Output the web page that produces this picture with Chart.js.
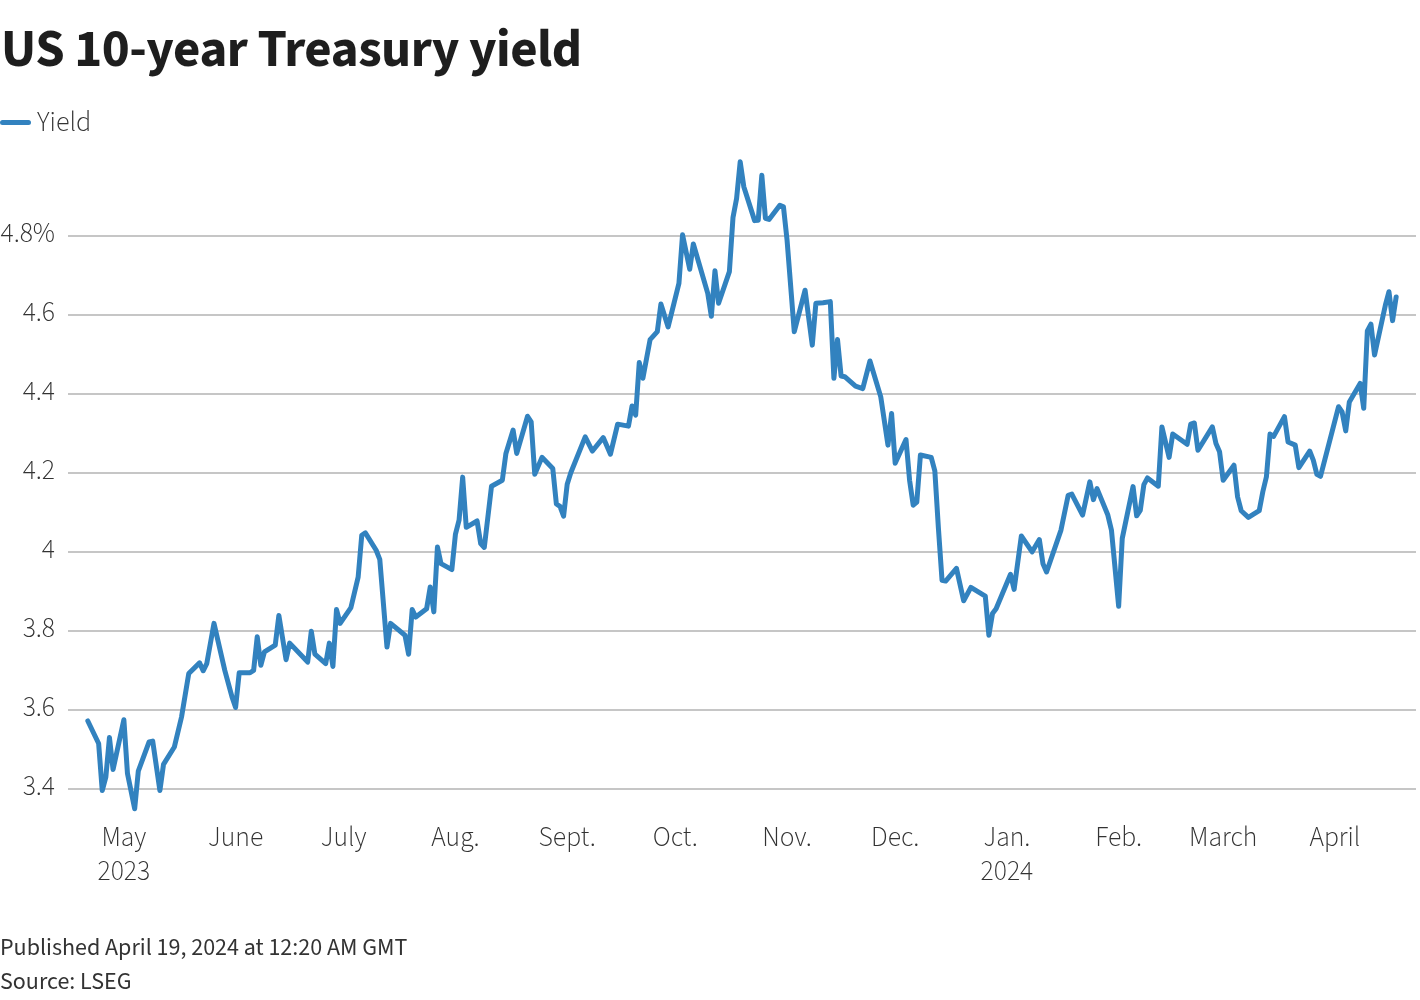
<!DOCTYPE html>
<html>
<head>
<meta charset="utf-8">
<script src="https://cdn.jsdelivr.net/npm/chart.js@4"></script>
<style>
  body { margin: 0; background: #fff; font-family: "Source Sans 3", "Source Sans Pro", Lato, sans-serif; color: #222; }
  #wrap { position: relative; width: 1420px; height: 1000px; }
  #chart { position: absolute; left: 0; top: 0; }
  #title { position: absolute; left: 1px; top: 12px; font-size: 53px; font-weight: 700; color: #1e1e1e; letter-spacing: -0.5px; }
  #legend { position: absolute; left: 0; top: 102px; font-size: 28px; font-weight: 300; color: #333; }
  #legend span.swatch { display: inline-block; width: 31px; height: 5px; border-radius: 3px; background: #3282bf; vertical-align: middle; margin-right: 6px; position: relative; top: -2px; }
  .foot { position: absolute; left: 0; font-size: 24px; color: #333; }
</style>
</head>
<body>
<div id="wrap">
  <canvas id="chart" width="1420" height="1000"></canvas>
  <div id="title">US 10-year Treasury yield</div>
  <div id="legend"><span class="swatch"></span>Yield</div>
  <div class="foot" style="top: 930px;">Published April 19, 2024 at 12:20 AM GMT</div>
  <div class="foot" style="top: 964px;">Source: LSEG</div>
</div>
<script>
// trading days
var dates = [
  "2023-04-21", "2023-04-24", "2023-04-25", "2023-04-26", "2023-04-27", "2023-04-28",
  "2023-05-01", "2023-05-02", "2023-05-04", "2023-05-05", "2023-05-08", "2023-05-09", "2023-05-11", "2023-05-12",
  "2023-05-15", "2023-05-17", "2023-05-19", "2023-05-22", "2023-05-23", "2023-05-24", "2023-05-26", "2023-05-29", "2023-05-31",
  "2023-06-01", "2023-06-02", "2023-06-05", "2023-06-06", "2023-06-07", "2023-06-08", "2023-06-09", "2023-06-12", "2023-06-13",
  "2023-06-15", "2023-06-16", "2023-06-21", "2023-06-22", "2023-06-23", "2023-06-26", "2023-06-27", "2023-06-28", "2023-06-29", "2023-06-30",
  "2023-07-03", "2023-07-05", "2023-07-06", "2023-07-07", "2023-07-10", "2023-07-11", "2023-07-13", "2023-07-14", "2023-07-18",
  "2023-07-19", "2023-07-20", "2023-07-21", "2023-07-24", "2023-07-25", "2023-07-26", "2023-07-27", "2023-07-28", "2023-07-31",
  "2023-08-01", "2023-08-02", "2023-08-03", "2023-08-04", "2023-08-07", "2023-08-08", "2023-08-09", "2023-08-11", "2023-08-14", "2023-08-15",
  "2023-08-17", "2023-08-18", "2023-08-21", "2023-08-22", "2023-08-23", "2023-08-25", "2023-08-28", "2023-08-29", "2023-08-30", "2023-08-31",
  "2023-09-01", "2023-09-02", "2023-09-06", "2023-09-08", "2023-09-11", "2023-09-13", "2023-09-15", "2023-09-18",
  "2023-09-19", "2023-09-20", "2023-09-21", "2023-09-22", "2023-09-24", "2023-09-26", "2023-09-27", "2023-09-29",
  "2023-10-02", "2023-10-03", "2023-10-05", "2023-10-06", "2023-10-10", "2023-10-11", "2023-10-12", "2023-10-13", "2023-10-16", "2023-10-17",
  "2023-10-18", "2023-10-19", "2023-10-20", "2023-10-23", "2023-10-24", "2023-10-25", "2023-10-26", "2023-10-27", "2023-10-30", "2023-10-31",
  "2023-11-01", "2023-11-03", "2023-11-06", "2023-11-08", "2023-11-09", "2023-11-11", "2023-11-13", "2023-11-14", "2023-11-15",
  "2023-11-16", "2023-11-17", "2023-11-20", "2023-11-22", "2023-11-24", "2023-11-27", "2023-11-29", "2023-11-30",
  "2023-12-01", "2023-12-04", "2023-12-05", "2023-12-06", "2023-12-07", "2023-12-08", "2023-12-11", "2023-12-12", "2023-12-13",
  "2023-12-14", "2023-12-15", "2023-12-18", "2023-12-20", "2023-12-22", "2023-12-26", "2023-12-27", "2023-12-28", "2023-12-29",
  "2024-01-02", "2024-01-03", "2024-01-05", "2024-01-08", "2024-01-10", "2024-01-11", "2024-01-12", "2024-01-16",
  "2024-01-18", "2024-01-19", "2024-01-22", "2024-01-24", "2024-01-25", "2024-01-26", "2024-01-29", "2024-01-30",
  "2024-02-01", "2024-02-02", "2024-02-05", "2024-02-06", "2024-02-07", "2024-02-08", "2024-02-09", "2024-02-12", "2024-02-13",
  "2024-02-15", "2024-02-16", "2024-02-20", "2024-02-21", "2024-02-22", "2024-02-23", "2024-02-27", "2024-02-28", "2024-02-29",
  "2024-03-01", "2024-03-04", "2024-03-05", "2024-03-06", "2024-03-08", "2024-03-11", "2024-03-12", "2024-03-13", "2024-03-14",
  "2024-03-15", "2024-03-18", "2024-03-19", "2024-03-21", "2024-03-22", "2024-03-25", "2024-03-26", "2024-03-27", "2024-03-28",
  "2024-04-02", "2024-04-03", "2024-04-04", "2024-04-05", "2024-04-08", "2024-04-09", "2024-04-10", "2024-04-11",
  "2024-04-12", "2024-04-15", "2024-04-16", "2024-04-17", "2024-04-18"
];

var yields = [
  3.573, 3.516, 3.397, 3.431, 3.531, 3.45,
  3.576, 3.44, 3.351, 3.446, 3.52, 3.522, 3.397, 3.463,
  3.507, 3.583, 3.693, 3.72, 3.70, 3.718, 3.82, 3.701, 3.634,
  3.607, 3.695, 3.695, 3.701, 3.786, 3.714, 3.748, 3.765, 3.84,
  3.728, 3.77, 3.722, 3.80, 3.742, 3.718, 3.77, 3.711, 3.855, 3.82,
  3.86, 3.937, 4.043, 4.049, 4.005, 3.982, 3.76, 3.82, 3.79,
  3.742, 3.855, 3.836, 3.857, 3.912, 3.849, 4.013, 3.971, 3.956,
  4.046, 4.081, 4.19, 4.063, 4.079, 4.022, 4.012, 4.167, 4.182, 4.25,
  4.309, 4.25, 4.344, 4.33, 4.197, 4.24, 4.212, 4.122, 4.116, 4.091,
  4.172, 4.201, 4.292, 4.256, 4.29, 4.248, 4.324, 4.319,
  4.37, 4.347, 4.48, 4.44, 4.538, 4.558, 4.628, 4.57,
  4.68, 4.803, 4.716, 4.78, 4.655, 4.597, 4.712, 4.63, 4.71, 4.847,
  4.895, 4.988, 4.925, 4.839, 4.84, 4.954, 4.845, 4.842, 4.878, 4.874,
  4.79, 4.558, 4.663, 4.524, 4.63, 4.631, 4.634, 4.44, 4.538,
  4.446, 4.444, 4.42, 4.414, 4.484, 4.393, 4.271, 4.351,
  4.225, 4.285, 4.182, 4.119, 4.127, 4.246, 4.24, 4.206, 4.06,
  3.929, 3.927, 3.959, 3.877, 3.911, 3.889, 3.79, 3.845, 3.857,
  3.944, 3.906, 4.041, 4.001, 4.032, 3.971, 3.95, 4.056,
  4.144, 4.147, 4.094, 4.178, 4.133, 4.161, 4.094, 4.056,
  3.863, 4.035, 4.166, 4.092, 4.106, 4.171, 4.188, 4.167, 4.317,
  4.24, 4.299, 4.273, 4.324, 4.327, 4.258, 4.317, 4.275, 4.254,
  4.182, 4.22, 4.14, 4.105, 4.088, 4.105, 4.153, 4.191, 4.299,
  4.293, 4.343, 4.279, 4.271, 4.214, 4.256, 4.233, 4.197, 4.192,
  4.368, 4.355, 4.307, 4.38, 4.427, 4.364, 4.56, 4.577,
  4.499, 4.625, 4.659, 4.586, 4.646
];

var monthDates = [
  "2023-05-01", "2023-06-01", "2023-07-01", "2023-08-01", "2023-09-01", "2023-10-01",
  "2023-11-01", "2023-12-01", "2024-01-01", "2024-02-01", "2024-03-01", "2024-04-01"
];
var monthLabels = [
  ["May", "2023"], "June", "July", "Aug.", "Sept.", "Oct.",
  "Nov.", "Dec.", ["Jan.", "2024"], "Feb.", "March", "April"
];
var yTicks = [3.4, 3.6, 3.8, 4.0, 4.2, 4.4, 4.6, 4.8];

var baseDay = Date.UTC(2023, 4, 1);
function dayOffset(s) {
  var p = s.split("-");
  return (Date.UTC(+p[0], +p[1] - 1, +p[2]) - baseDay) / 86400000;
}

var points = dates.map(function (d, i) {
  return { x: dayOffset(d), y: yields[i] };
});
var monthStarts = monthDates.map(dayOffset);

var labelFont = { family: '"Source Sans 3", "Source Sans Pro", Lato, sans-serif', size: 27.5, weight: 300, lineHeight: 1.24 };

var ctx = document.getElementById("chart").getContext("2d");
var myChart = new Chart(ctx, {
  type: "line",
  data: {
    datasets: [
      {
        label: "Yield",
        data: points,
        borderColor: "#3282bf",
        borderWidth: 5,
        pointRadius: 0,
        tension: 0,
        borderJoinStyle: "round",
        borderCapStyle: "round",
      },
    ],
  },
  options: {
    responsive: false,
    animation: false,
    layout: { padding: { top: 157, right: 4, bottom: 0, left: 0 } },
    plugins: {
      legend: { display: false },
      tooltip: { enabled: false },
    },
    scales: {
      x: {
        type: "linear",
        min: -15.5,
        max: 358.5,
        grid: { display: false, drawTicks: false },
        border: { display: false },
        afterBuildTicks: function (scale) {
          scale.ticks = monthStarts.map(function (v) { return { value: v }; });
        },
        afterFit: function (scale) {
          scale.height = 183;
        },
        ticks: {
          autoSkip: false,
          maxRotation: 0,
          padding: 6,
          color: "#333",
          font: labelFont,
          callback: function (value) {
            var i = monthStarts.indexOf(value);
            return i >= 0 ? monthLabels[i] : "";
          },
        },
      },
      y: {
        min: 3.33,
        max: 5.0,
        grid: { color: "#c6c6c6", lineWidth: 2, drawTicks: false },
        border: { display: false },
        afterBuildTicks: function (scale) {
          scale.ticks = yTicks.map(function (v) { return { value: v }; });
        },
        afterFit: function (scale) {
          scale.width = 68;
        },
        ticks: {
          padding: 13,
          color: "#333",
          font: labelFont,
          callback: function (value) {
            if (Math.abs(value - 4.8) < 1e-6) return "4.8%";
            if (Math.abs(value - 4) < 1e-6) return "4";
            return value.toFixed(1);
          },
        },
      },
    },
  },
});
</script>
</body>
</html>
